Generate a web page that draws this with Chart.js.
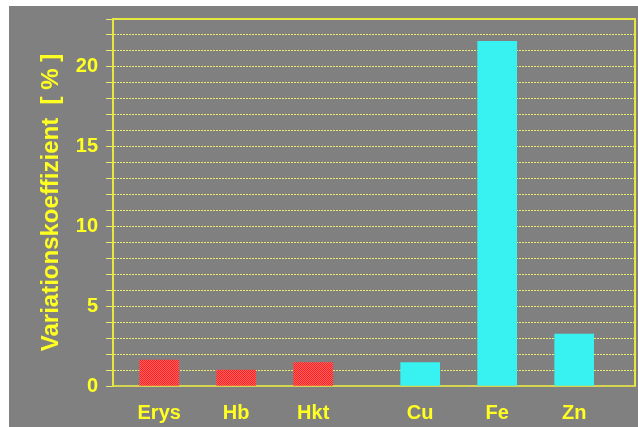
<!DOCTYPE html>
<html>
<head>
<meta charset="utf-8">
<script src="https://cdn.jsdelivr.net/npm/chart.js@4"></script>
<style>
  body { margin: 0; background: #fff; }
  #box { position: absolute; left: 9px; top: 6px; width: 629px; height: 421px; background: #808080; }
</style>
</head>
<body>
<div id="box"><canvas id="chart" width="629" height="421"></canvas></div>
<script>
const categories = ['Erys', 'Hb', 'Hkt', 'Cu', 'Fe', 'Zn'];
const groups = [0, 0, 0, 1, 1, 1]; // 0 = blood values, 1 = trace elements
const values = [1.63, 1.0, 1.46, 1.46, 21.6, 3.25];
const yTicks = [0, 5, 10, 15, 20];

const yellow = '#ffff22';

// fine red checker like the original hatch
function redPattern() {
  const c = document.createElement('canvas');
  c.width = 2; c.height = 2;
  const g = c.getContext('2d');
  g.fillStyle = '#ff1e1e'; g.fillRect(0, 0, 2, 2);
  g.fillStyle = '#ff6464'; g.fillRect(0, 0, 1, 1); g.fillRect(1, 1, 1, 1);
  return g.createPattern(c, 'repeat');
}

const ctx = document.getElementById('chart').getContext('2d');
const red = redPattern();

// slot positions on the x axis, with a gap between the two groups
const slots = categories.map((c, i) => i + 0.6 + groups[i] * 0.39);

const frame = {
  id: 'frame',
  afterDatasetsDraw(chart) {
    const a = chart.chartArea, g = chart.ctx;
    g.save();
    g.strokeStyle = '#e6e640';
    g.lineWidth = 2;
    g.beginPath();
    g.moveTo(a.left, a.top);
    g.lineTo(a.right, a.top);
    g.lineTo(a.right, a.bottom);
    g.stroke();
    g.restore();
  }
};

new Chart(ctx, {
  type: 'bar',
  data: {
    datasets: [{
      data: categories.map((c, i) => ({ x: slots[i], y: values[i] })),
      backgroundColor: groups.map(g => g === 0 ? red : '#38f2f2'),
      borderWidth: 0,
      barThickness: 39
    }]
  },
  options: {
    responsive: false,
    animation: false,
    layout: { padding: { left: 26, top: 13, right: 3, bottom: 0 } },
    plugins: { legend: { display: false }, tooltip: { enabled: false } },
    scales: {
      x: {
        type: 'linear',
        min: 0,
        max: 6.78,
        offset: false,
        afterBuildTicks: s => { s.ticks = slots.map(v => ({ value: v })); },
        afterFit: s => { s.height = 41; s.paddingLeft = 0; s.paddingRight = 0; },
        ticks: {
          autoSkip: false,
          padding: 15,
          color: yellow,
          font: { family: 'Liberation Sans, Arial, sans-serif', size: 20, weight: 'bold' },
          callback: (v, i) => categories[i]
        },
        grid: { display: false, drawTicks: false },
        border: { display: true, color: '#d4d450', width: 2 }
      },
      y: {
        min: 0,
        max: 23,
        afterFit: s => { s.width = 78; s.paddingTop = 0; s.paddingBottom = 0; },
        ticks: {
          stepSize: 1,
          autoSkip: false,
          padding: 8,
          color: yellow,
          font: { family: 'Liberation Sans, Arial, sans-serif', size: 20, weight: 'bold' },
          callback: v => yTicks.includes(v) ? v : ''
        },
        grid: {
          color: 'rgba(255,255,110,0.85)',
          lineWidth: 1,
          tickLength: 7,
          tickColor: 'rgba(255,255,110,0.85)'
        },
        border: { display: true, color: '#e6e640', width: 2, dash: [2, 1] },
        title: {
          display: true,
          text: 'Variationskoeffizient  [ % ]',
          color: yellow,
          font: { family: 'Liberation Sans, Arial, sans-serif', size: 24, weight: 'bold' },
          padding: { top: 2, bottom: 2 }
        }
      }
    }
  },
  plugins: [frame]
});
</script>
</body>
</html>
